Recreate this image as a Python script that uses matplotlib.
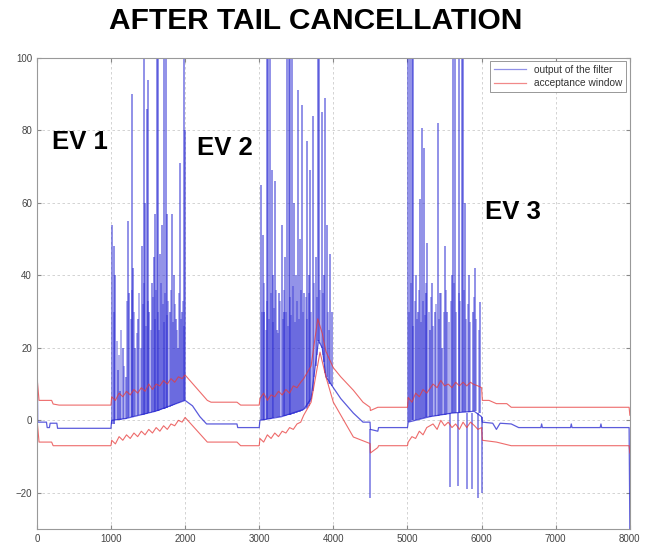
import matplotlib
matplotlib.use("Agg")
import matplotlib.pyplot as plt
from matplotlib.lines import Line2D

plt.rcParams['font.family'] = ['Liberation Sans', 'DejaVu Sans']

# filter output baseline (x, y)
blue_x = [0, 12, 130, 140, 170, 180, 270, 280, 1000,
          1010, 1200, 1400, 1600, 1800, 2000, 2100, 2200, 2290, 2700, 2710, 3000,
          3010, 3300, 3600, 3700, 3800, 3850, 3900, 4000, 4100, 4270, 4400, 4495, 4500, 4600, 4610, 5000,
          5010, 5300, 5600, 5900, 6000, 6010, 6150, 6200, 6250, 6400, 6500,
          6800, 6810, 6820, 7200, 7210, 7220, 7600, 7610, 7620, 7990, 8000]
blue_y = [31, -0.5, -0.5, -2, -2, -0.8, -0.8, -2.2, -2.2,
          0, 0.5, 1.5, 2.5, 4, 5.5, 4, 1, -1, -1, -2, -2,
          0, 1, 3, 6, 22, 20, 12, 9, 6, 2, -0.5, -0.5, -2.5, -3, -2, -2,
          -0.5, 1, 2, 2.5, 1, -0.5, -0.8, -2.5, -0.8, -1, -2,
          -2, -1, -2, -2, -1, -2, -2, -1, -2, -2, -30]

# big spikes of the filter output: position, top, bottom
spk_x = [1020, 1035, 1060, 1090, 1120, 1160, 1200, 1230, 1250, 1280, 1300, 1330, 1370,
         1420, 1440, 1460, 1480, 1495, 1520, 1550, 1580, 1600, 1620, 1640, 1660, 1690,
         1720, 1740, 1760, 1790, 1820, 1850, 1880, 1910, 1930, 1960, 1980, 1995,
         3030, 3050, 3070, 3100, 3120, 3145, 3170, 3190, 3210, 3240, 3270, 3305, 3330,
         3350, 3380, 3400, 3420, 3440, 3470, 3500, 3520, 3550, 3575, 3610, 3640, 3665,
         3685, 3725, 3760, 3790, 3805, 3845, 3870, 3890, 3910, 3955, 3980,
         4500,
         5005, 5030, 5060, 5080, 5110, 5140, 5170, 5195, 5220, 5245, 5265, 5300, 5330,
         5370, 5410, 5440, 5470, 5505, 5540, 5575, 5600, 5615, 5640, 5680, 5700, 5730,
         5750, 5780, 5800, 5830, 5865, 5880, 5910, 5950, 5980, 6000]
spk_top = [54, 48, 40, 14, 8, 20, 12, 55, 35, 90, 42, 20, 28,
           48, 105, 60, 86, 94, 30, 38, 45, 57, 105, 105, 46, 54,
           105, 105, 57, 30, 57, 40, 28, 20, 71, 30, 105, 80,
           65, 51, 30, 105, 105, 105, 69, 40, 66, 25, 35, 54, 30,
           45, 105, 105, 105, 105, 60, 40, 91, 50, 87, 35, 77, 40,
           69, 84, 45, 105, 105, 85, 40, 89, 54, 46, 30,
           -2.5,
           105, 105, 105, 105, 40, 30, 61, 80.5, 75, 35, 49, 25, 38,
           30, 82, 35, 20, 48, 30, 2, 40, 105, 105, 2, 105, 105,
           105, 60, 2, 40, 2, 30, 42, 2, 32.5, 1]
spk_bot = [-1, -1, 0, 0, 0, 0.3, 0.5, 0.7, 0.8, 1, 1, 1.2, 1.4,
           1.5, 1.6, 1.7, 1.8, 1.9, 2, 2.2, 2.3, 2.5, 2.6, 2.7, 2.8, 3,
           3.2, 3.3, 3.5, 3.7, 4, 4.2, 4.5, 4.8, 5, 5.2, 5.4, 5.5,
           0, 0, 0.2, 0.3, 0.4, 0.5, 0.6, 0.7, 0.8, 0.9, 1, 1.1, 1.2,
           1.3, 1.4, 1.5, 1.6, 1.7, 1.8, 2, 2.2, 2.4, 2.6, 3, 3.5, 4,
           5, 8, 15, 22, 22, 20, 16, 13, 12, 10, 9.5,
           -21.5,
           -0.5, -0.3, 0, 0, 0.2, 0.3, 0.5, 0.6, 0.7, 0.8, 0.9, 1, 1.1,
           1.2, 1.3, 1.4, 1.5, 1.6, 1.7, -18.5, 1.9, 2, 2, -18, 2.1, 2.2,
           2.2, 2.3, -19, 2.4, -19, 2.5, 2.5, -21.5, 2, -20]

# small dense spikes inside the events
fill_x = [1045, 1075, 1105, 1140, 1180, 1215, 1265, 1290, 1315, 1345, 1385, 1400, 1430,
          1450, 1470, 1505, 1535, 1565, 1590, 1610, 1630, 1650, 1675, 1700, 1710, 1730,
          1750, 1775, 1805, 1835, 1865, 1895, 1920, 1945, 1970, 1990,
          3040, 3060, 3085, 3110, 3135, 3160, 3180, 3200, 3225, 3255, 3285, 3315, 3340,
          3365, 3390, 3410, 3430, 3455, 3485, 3510, 3535, 3560, 3590, 3625, 3650, 3675,
          3700, 3740, 3775, 3820, 3860, 3930, 3945,
          5015, 5045, 5070, 5095, 5125, 5155, 5185, 5210, 5235, 5255, 5285, 5315, 5345,
          5390, 5425, 5455, 5490, 5520, 5555, 5590, 5625, 5660, 5690, 5715, 5765, 5790,
          5815, 5850, 5895, 5930, 5965]
fill_top = [30, 22, 18, 25, 15, 33, 28, 36, 30, 24, 35, 20, 32,
            38, 26, 33, 25, 34, 28, 36, 30, 25, 38, 32, 27, 35,
            29, 33, 36, 27, 32, 25, 35, 28, 33, 26,
            30, 38, 25, 33, 28, 35, 27, 31, 36, 24, 33, 28, 36,
            30, 26, 34, 29, 37, 27, 33, 28, 36, 30, 34, 28, 35,
            30, 38, 34, 36, 35, 30, 25,
            30, 38, 26, 33, 28, 36, 27, 33, 29, 38, 30, 34, 26,
            32, 28, 35, 30, 36, 27, 33, 38, 30, 35, 33, 36, 28,
            32, 27, 34, 28, 25]
fill_bot = [-1, 0, 0, 0.2, 0.4, 0.6, 0.8, 1, 1.1, 1.3, 1.4, 1.5, 1.6,
            1.7, 1.8, 2, 2.1, 2.3, 2.4, 2.5, 2.6, 2.7, 2.9, 3, 3.1, 3.2,
            3.4, 3.6, 3.9, 4.1, 4.4, 4.7, 4.9, 5.1, 5.3, 5.5,
            0, 0.1, 0.2, 0.3, 0.4, 0.5, 0.6, 0.7, 0.8, 0.9, 1, 1.1, 1.2,
            1.3, 1.4, 1.5, 1.6, 1.7, 1.9, 2.1, 2.3, 2.5, 2.8, 3.2, 3.7, 4.5,
            6, 12, 18, 21, 18, 11, 10,
            -0.5, -0.2, 0, 0.1, 0.2, 0.3, 0.5, 0.6, 0.7, 0.8, 0.9, 1, 1.1,
            1.2, 1.3, 1.4, 1.5, 1.6, 1.7, 1.9, 2, 2, 2.1, 2.2, 2.2, 2.3,
            2.4, 2.4, 2.5, 2.5, 2]

# acceptance window, upper edge
up_x = [0, 30, 200, 220, 300, 1000,
        1010, 1060, 1110, 1160, 1210, 1260, 1310, 1360, 1410, 1460, 1510, 1560, 1610,
        1660, 1710, 1760, 1810, 1860, 1910, 1960, 2000,
        2150, 2300, 2350, 2700, 2750, 3000,
        3010, 3060, 3110, 3160, 3210, 3260, 3310, 3360, 3410, 3460, 3510, 3560, 3600,
        3700, 3790, 3850, 3900, 4000, 4100, 4270, 4400, 4495, 4500, 4600, 5000,
        5010, 5060, 5110, 5160, 5210, 5260, 5345, 5400, 5450, 5500, 5550, 5600, 5650,
        5700, 5750, 5800, 5850, 5885, 5950, 6000,
        6010, 6100, 6200, 6340, 6400, 7990, 8000]
up_y = [12.5, 5.5, 5.5, 4.5, 4.2, 4.2,
        6.5, 5.5, 7.5, 6.5, 8, 7, 8.5, 7.5, 9, 8, 10, 8.5, 10, 9.5,
        11, 10, 11.5, 10.5, 12, 11.5, 12.5,
        9, 5.5, 5, 5, 4.2, 4.2,
        6, 7.5, 5.5, 7, 6.5, 8, 7, 8.5, 7.5, 9.5, 9, 10.5, 11.5,
        15, 28, 24, 19, 14.5, 12, 8.3, 5, 3.6, 2.7, 3.6, 3.6,
        6.3, 5, 7.5, 6.5, 8.5, 7.5, 10, 9, 11, 9.5, 10, 9, 10.5,
        9.5, 10.5, 9.5, 10.5, 10, 9.5, 9,
        5.5, 5.5, 4.6, 4.6, 3.6, 3.6, 1.4]

# acceptance window, lower edge
lo_x = [0, 30, 200, 220, 1000,
        1010, 1060, 1110, 1160, 1210, 1260, 1310, 1360, 1410, 1460, 1510, 1560, 1610,
        1660, 1710, 1760, 1810, 1860, 1910, 1960, 2000,
        2300, 2700, 2750, 3000,
        3010, 3060, 3110, 3160, 3210, 3260, 3310, 3360, 3410, 3460, 3510, 3560, 3600,
        3700, 3820, 3900, 4000, 4270, 4495, 4500, 4600, 4610, 5000,
        5010, 5060, 5110, 5160, 5210, 5260, 5345, 5400, 5450, 5500, 5550, 5600, 5650,
        5700, 5750, 5800, 5850, 5900, 5950, 6000,
        6010, 6200, 6300, 6400, 7990, 8000]
lo_y = [1, -6, -6, -7, -7,
        -5.5, -6.5, -4.5, -5.5, -4, -5, -3.5, -4.5, -3, -4, -2.5, -3.5, -2,
        -3, -1.5, -2.5, -1, -1.5, 0, -0.5, 0.8,
        -6, -6, -7, -7,
        -5, -6, -4, -5, -3.5, -4.5, -3, -3.5, -2, -2.5, -1, -0.5, 1.4,
        5, 18.8, 12, 5, -4.6, -6.4, -9, -7.5, -7, -7,
        -6, -4.5, -5, -3, -4, -2, -1, -2.5, 0, -1.5, -0.5, -2, -1,
        -2.5, -0.5, -2, -0.5, -1.4, -2.5, -2,
        -5.5, -6, -6.5, -7, -7, -9]

ev_labels = ['EV 1', 'EV 2', 'EV 3']
ev_x = [580, 2540, 6425]
ev_y = [76.7, 75, 57.4]

blue = '#2424d0'
red = '#e83a3a'

fig = plt.figure(figsize=(6.46, 5.50), dpi=100)
ax = fig.add_axes([0.057, 0.038, 0.918, 0.857])

ax.vlines(fill_x, fill_bot, fill_top, colors=blue, linewidth=1.3, alpha=0.4)
ax.vlines(spk_x, spk_bot, spk_top, colors=blue, linewidth=1.4, alpha=0.5)
ax.plot(blue_x, blue_y, color=blue, linewidth=0.9, alpha=0.75)
ax.plot(up_x, up_y, color=red, linewidth=0.8, alpha=0.75)
ax.plot(lo_x, lo_y, color=red, linewidth=0.8, alpha=0.75)

for lab, x, y in zip(ev_labels, ev_x, ev_y):
    ax.text(x, y, lab, fontsize=18.5, fontweight='bold', ha='center', va='center')

ax.set_xlim(0, 8000)
ax.set_ylim(-30, 100)
ax.set_xticks(range(0, 8001, 1000))
ax.set_yticks(range(-20, 101, 20))
ax.tick_params(direction='in', length=3, colors='#888888', labelcolor='#444444',
               labelsize=7, top=True, right=True)
ax.grid(True, linestyle=(0, (3, 3)), color='#cccccc', linewidth=0.6)
for sp in ax.spines.values():
    sp.set_color('#999999')
    sp.set_linewidth(0.8)

handles = [Line2D([0], [0], color=blue, lw=0.9, alpha=0.5),
           Line2D([0], [0], color=red, lw=0.9, alpha=0.6)]
leg = ax.legend(handles, ['output of the filter', 'acceptance window'],
                loc='upper right', fontsize=7.3, fancybox=False, framealpha=1,
                edgecolor='#888888', borderaxespad=0.35, handlelength=3.2,
                labelspacing=0.35, borderpad=0.35)
leg.get_frame().set_linewidth(0.6)
for t in leg.get_texts():
    t.set_color('#333333')

fig.text(0.489, 1 - 21 / 550, 'AFTER TAIL CANCELLATION', fontsize=21.5,
         fontweight='bold', ha='center', va='center')

fig.savefig('out.png', dpi=100)
